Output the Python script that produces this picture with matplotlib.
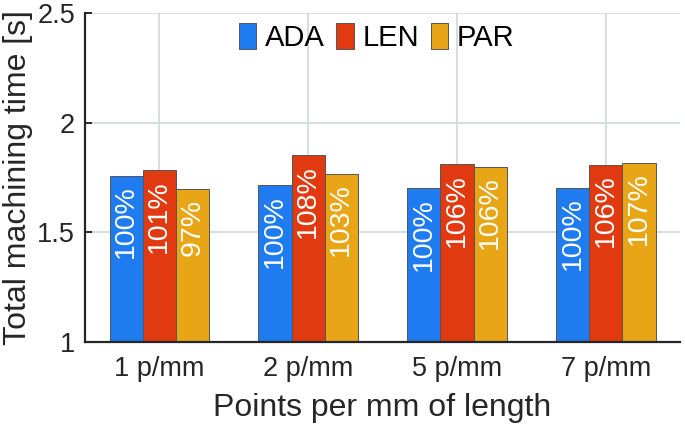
import matplotlib
matplotlib.use("Agg")
import matplotlib.pyplot as plt
import numpy as np

categories = ["1 p/mm", "2 p/mm", "5 p/mm", "7 p/mm"]
series_names = ["ADA", "LEN", "PAR"]
ada = [1.759, 1.714, 1.701, 1.703]
len_ = [1.782, 1.851, 1.811, 1.809]
par = [1.697, 1.768, 1.799, 1.817]
ada_lbl = ["100%", "100%", "100%", "100%"]
len_lbl = ["101%", "108%", "106%", "106%"]
par_lbl = ["97%", "103%", "106%", "107%"]
yticks = [1, 1.5, 2, 2.5]
ytick_labels = ["1", "1.5", "2", "2.5"]

colors = ["#1f7bf0", "#e23a10", "#e8a516"]

plt.rcParams['font.family'] = ['Liberation Sans', 'DejaVu Sans']

fig = plt.figure(figsize=(6.85, 4.30), dpi=100)
ax = fig.add_axes([0.124, 0.2047, 0.869, 0.765])

x = np.arange(1, len(categories) + 1)
w = 0.223
data = [ada, len_, par]
labels = [ada_lbl, len_lbl, par_lbl]
for i, (vals, lbls) in enumerate(zip(data, labels)):
    xs = x + (i - 1) * w
    ax.bar(xs, np.array(vals) - 1, width=w, bottom=1, color=colors[i],
           edgecolor="#555555", linewidth=0.7, label=series_names[i], zorder=3)
    for xi, v, t in zip(xs, vals, lbls):
        ax.annotate(t, xy=(xi, v), xytext=(0, -7), textcoords="offset points",
                    rotation=90, ha="center", va="top", color="white",
                    fontsize=20.5, zorder=4)

ax.set_xlim(0.5, 4.5)
ax.set_ylim(1, 2.5)
ax.set_yticks(yticks)
ax.set_yticklabels(ytick_labels)
ax.set_xticks(x)
ax.set_xticklabels(categories)
ax.grid(True, color="#d3dcda", linewidth=1.3, zorder=0)
ax.set_axisbelow(True)
for s in ["top", "right"]:
    ax.spines[s].set_visible(False)
for s in ["left", "bottom"]:
    ax.spines[s].set_color("#262626")
    ax.spines[s].set_linewidth(1.6)
    ax.spines[s].set_zorder(5)
ax.tick_params(axis="y", direction="in", length=5, width=1.4, color="#262626",
               labelsize=19.5, pad=7, labelcolor="#262626")
ax.tick_params(axis="x", length=0, labelsize=19.5, pad=10, labelcolor="#262626")
ax.set_ylabel("Total machining time [s]", fontsize=23, color="#262626", labelpad=3)
ax.set_xlabel("Points per mm of length", fontsize=23, color="#262626", labelpad=8)

leg = ax.legend(loc="center", bbox_to_anchor=(0.49, 0.925), ncol=3, frameon=False,
                fontsize=21, handlelength=0.6, handleheight=1.0,
                handletextpad=0.3, columnspacing=0.4, borderpad=0.2)

fig.savefig("out.png", dpi=100)
